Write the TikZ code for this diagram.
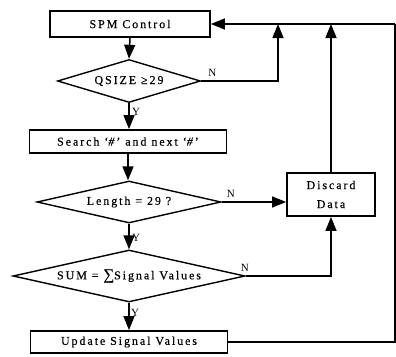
\documentclass[tikz,border=0pt]{standalone}
\usepackage{fontspec}
\setmainfont{Liberation Serif}
\newfontfamily\spacedfont[LetterSpace=16, FakeBold=0.4]{Liberation Serif}
\usetikzlibrary{arrows.meta, shapes.geometric}

\tikzset{
    step box/.style={draw, line width=1.8pt, rectangle, inner sep=0pt,
        font=\spacedfont\fontsize{12}{19}\selectfont, align=center},
    decision/.style={draw, line width=1.4pt, diamond, aspect=5, inner sep=0pt,
        font=\spacedfont\fontsize{12}{14}\selectfont},
    flow/.style={line width=1.5pt, -{Triangle[length=14pt, width=11pt]}},
    line/.style={line width=1.3pt},
    answer/.style={font=\fontsize{11}{12}\selectfont, inner sep=1pt},
}

\begin{document}
\begin{tikzpicture}[x=1pt, y=-1pt]
\useasboundingbox (0,0) rectangle (396,356);

% main column
\node[step box, minimum width=160pt, minimum height=26pt] (ctrl)    at (130,24)    {SPM Control};
\node[decision, minimum width=143pt, minimum height=43pt] (qsize)   at (129,81)    {QSIZE ≥29};
\node[step box, minimum width=197pt, minimum height=23pt] (search)  at (128,141.5) {Search ‘\textit{\#}’ and next ‘\textit{\#}’};
\node[decision, minimum width=184pt, minimum height=42pt] (len)     at (129,202)   {Length = 29 ?};
\node[decision, minimum width=232pt, minimum height=52pt] (sum)     at (129,276)   {SUM = {\fontsize{15}{14}\selectfont ∑}Signal Values};
\node[step box, minimum width=197pt, minimum height=22pt] (update)  at (129,342)   {Update Signal Values};

% side box
\node[step box, minimum width=88pt, minimum height=43pt] (discard) at (331,194.5) {Discard\\Data};

% return points on the top line
\coordinate (join-q) at (278,24);
\coordinate (join-r) at (395,24);

\draw[flow] (ctrl.south)   -- (qsize.north);
\draw[flow] (qsize.south)  -- (qsize.south |- search.north);
\draw[flow] (search.south) -- (search.south |- len.north);
\draw[flow] (len.south)    -- (sum.north);
\draw[flow] (sum.south)    -- (sum.south |- update.north);

\node[answer, anchor=north west] (y1) at ([shift={(2,4)}]qsize.south) {Y};
\node[answer, anchor=north west] (y2) at ([shift={(2,9)}]len.south)   {Y};
\node[answer, anchor=north west] (y3) at ([shift={(1,5)}]sum.south)   {Y};

% N branches
\draw[flow] (qsize.east) -| (join-q);
\draw[flow] (len.east)   -- (len.east -| discard.west);
\draw[flow] (sum.east)   -| (discard.south);
\draw[flow] (discard.north) -- (discard.north |- join-q);

\node[answer, anchor=south west] (n1) at ([shift={(6,-3)}]qsize.east) {N};
\node[answer, anchor=south west] (n2) at ([shift={(4,-3)}]len.east)   {N};
\node[answer, anchor=south west] (n3) at ([shift={(-6,-3)}]sum.east)  {N};

% loop back to the control box
\draw[line] (update.east) -| (join-r);
\draw[flow] (join-r) -- (ctrl.east);
\end{tikzpicture}
\end{document}
